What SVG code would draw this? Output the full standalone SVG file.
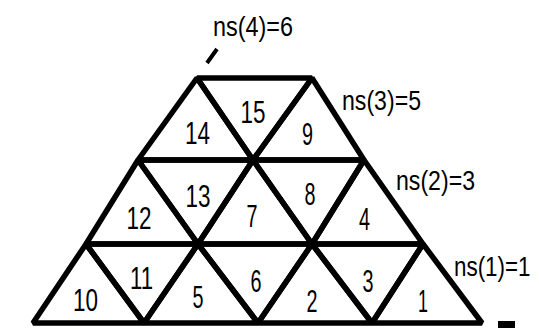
<svg xmlns="http://www.w3.org/2000/svg" width="539" height="328" viewBox="0 0 539 328">
<style>
.tri{fill:none;stroke:#000;stroke-width:5.5;stroke-linejoin:bevel}
.num{font-family:"Liberation Sans",Arial,sans-serif;font-size:32px;fill:#000;text-anchor:middle}
.lbl{font-family:"Liberation Sans",Arial,sans-serif;font-size:27px;fill:#000}
</style>
<rect width="539" height="328" fill="#fff"/>
<g id="t14"><polygon class="tri" points="197,78 138,160 253,160"/><text class="num" x="197.5" y="144" textLength="25" lengthAdjust="spacingAndGlyphs">14</text></g>
<g id="t15"><polygon class="tri" points="197,78 312,78 253,160"/><text class="num" x="253" y="123" textLength="25" lengthAdjust="spacingAndGlyphs">15</text></g>
<g id="t9"><polygon class="tri" points="312,78 253,160 364,160"/><text class="num" x="307.5" y="145" textLength="11" lengthAdjust="spacingAndGlyphs">9</text></g>
<g id="t12"><polygon class="tri" points="138,160 86,244 198,244"/><text class="num" x="139" y="229" textLength="25" lengthAdjust="spacingAndGlyphs">12</text></g>
<g id="t13"><polygon class="tri" points="138,160 253,160 198,244"/><text class="num" x="198" y="207" textLength="25" lengthAdjust="spacingAndGlyphs">13</text></g>
<g id="t7"><polygon class="tri" points="253,160 198,244 312,244"/><text class="num" x="252" y="227" textLength="11" lengthAdjust="spacingAndGlyphs">7</text></g>
<g id="t8"><polygon class="tri" points="253,160 364,160 312,244"/><text class="num" x="310" y="205" textLength="11" lengthAdjust="spacingAndGlyphs">8</text></g>
<g id="t4"><polygon class="tri" points="364,160 312,244 423,244"/><text class="num" x="364.5" y="230" textLength="11" lengthAdjust="spacingAndGlyphs">4</text></g>
<g id="t10"><polygon class="tri" points="86,244 33,323 144,323"/><text class="num" x="85.5" y="311" textLength="25" lengthAdjust="spacingAndGlyphs">10</text></g>
<g id="t11"><polygon class="tri" points="86,244 198,244 144,323"/><text class="num" x="141.5" y="289" textLength="23" lengthAdjust="spacingAndGlyphs">11</text></g>
<g id="t5"><polygon class="tri" points="198,244 144,323 258,323"/><text class="num" x="198" y="308" textLength="11" lengthAdjust="spacingAndGlyphs">5</text></g>
<g id="t6"><polygon class="tri" points="198,244 312,244 258,323"/><text class="num" x="256" y="292" textLength="11" lengthAdjust="spacingAndGlyphs">6</text></g>
<g id="t2"><polygon class="tri" points="312,244 258,323 372,323"/><text class="num" x="312" y="312" textLength="11" lengthAdjust="spacingAndGlyphs">2</text></g>
<g id="t3"><polygon class="tri" points="312,244 423,244 372,323"/><text class="num" x="368" y="292" textLength="11" lengthAdjust="spacingAndGlyphs">3</text></g>
<g id="t1"><polygon class="tri" points="423,244 372,323 482,323"/><text class="num" x="423" y="312" textLength="10" lengthAdjust="spacingAndGlyphs">1</text></g>
<g id="labels">
<text class="lbl" x="213" y="36" textLength="80" lengthAdjust="spacingAndGlyphs">ns(4)=6</text>
<text class="lbl" x="342" y="110" textLength="79" lengthAdjust="spacingAndGlyphs">ns(3)=5</text>
<text class="lbl" x="396" y="190" textLength="79" lengthAdjust="spacingAndGlyphs">ns(2)=3</text>
<text class="lbl" transform="translate(454,276) scale(0.83,1)" x="0" y="0">ns(1)=1</text>
</g>
<g id="connectors">
<line x1="207" y1="63" x2="217" y2="49" stroke="#000" stroke-width="4"/>
</g>
<rect x="498" y="321" width="17" height="7" fill="#000"/>
</svg>
